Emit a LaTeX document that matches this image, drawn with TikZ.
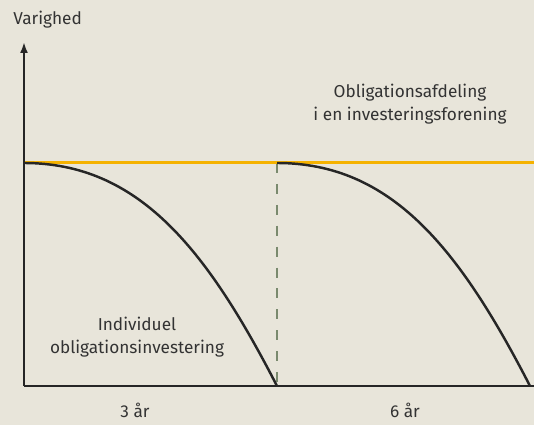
\documentclass[tikz,border=0pt]{standalone}
\usepackage{fontspec}
\setmainfont{Fira Sans}
\usetikzlibrary{arrows.meta,positioning}
\definecolor{chartbg}{RGB}{232,229,218}
\definecolor{levelorange}{RGB}{245,178,0}
\definecolor{splitgreen}{RGB}{122,138,110}
\tikzset{
    axisline/.style={line width=1.5pt,black!85},
    axisarrow/.style={-{Latex[length=2.2mm,width=1.6mm]},line width=1.5pt,black!85},
    levelline/.style={line width=1.7pt,levelorange},
    durcurve/.style={line width=1.4pt,black!85},
    splitline/.style={dash pattern=on 5.7pt off 6.2pt,line width=1.2pt,splitgreen},
    chartlabel/.style={align=center,font=\fontsize{9.8}{12.8}\selectfont,text=black!80,inner sep=0pt}
}

\begin{document}
\begin{tikzpicture}[x=0.02cm,y=0.02cm]
            \fill[chartbg] (0,0) rectangle (534,425);
            \useasboundingbox (0,0) rectangle (534,425);
            % axes
            \coordinate (origin) at (24,39);
            \coordinate (ytop) at (24,383);
            \coordinate (xend) at (534,39);
            \coordinate (levelstart) at (24,262);
            \coordinate (levelend) at (534,262);
            \coordinate (split) at (277,39);
            \coordinate (splittop) at (277,262);
            \coordinate (secondend) at (530,39);
            \draw[splitline] (splittop) -- (split);
            \draw[levelline] (levelstart) -- (levelend);
            \draw[durcurve] (levelstart) .. controls +(114,0) and +(-71,138) .. (split);
            \draw[durcurve] (splittop) .. controls +(114,0) and +(-71,138) .. (secondend);
            \draw[axisarrow] (origin) -- (ytop);
            \draw[axisline] (origin) -- (xend);
            % labels
            \node[chartlabel,anchor=west] (yname) at (13,405) {Varighed};
            \node[chartlabel] (fundlabel) at (410,321) {Obligationsafdeling\\i en investeringsforening};
            \node[chartlabel] (directlabel) at (137,88) {Individuel\\obligationsinvestering};
            \node[chartlabel] (firstspan) at (135,15) {3 år};
            \node[chartlabel] (secondspan) at (405,15) {6 år};
\end{tikzpicture}
\end{document}
